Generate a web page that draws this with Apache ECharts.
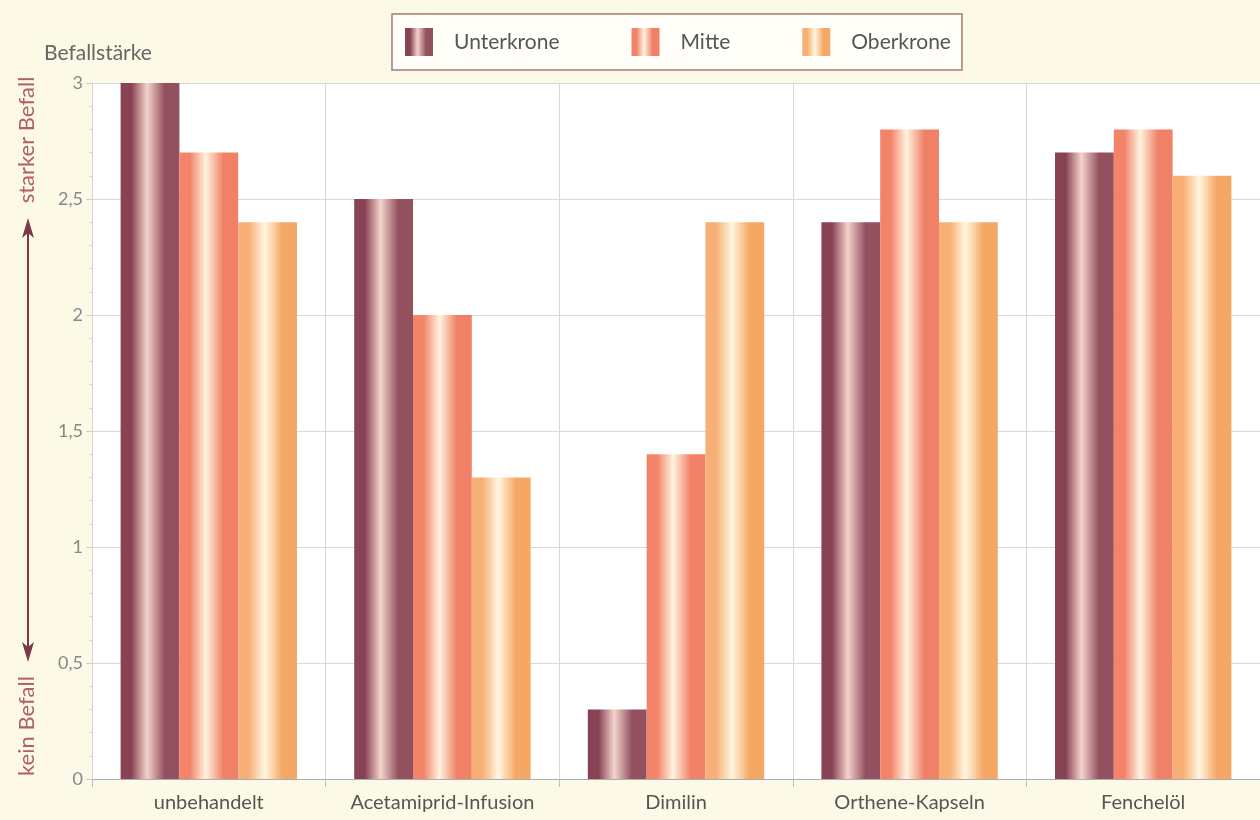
<!DOCTYPE html>
<html lang="de">
<head>
    <meta charset="UTF-8"/>
    <title>Befallstärke</title>
    <script src="https://cdn.jsdelivr.net/npm/echarts@6/dist/echarts.min.js"></script>
    <style>
        html, body {margin: 0; padding: 0; background: #fcfae6;}
        #chart {width: 1260px; height: 820px;}
    </style>
</head>
<body>
<div id="chart"></div>
<script type="text/javascript">
    var categories = ["unbehandelt", "Acetamiprid-Infusion", "Dimilin", "Orthene-Kapseln", "Fenchelöl"];
    var unterkrone = [3.0, 2.5, 0.3, 2.4, 2.7];
    var mitte = [2.7, 2.0, 1.4, 2.8, 2.8];
    var oberkrone = [2.4, 1.3, 2.4, 2.4, 2.6];
    var yTicks = [0, 0.5, 1, 1.5, 2, 2.5, 3];

    var font = "Lato, 'Noto Sans', sans-serif";

    function stripe(edgeL, mid, edgeR) {
        return {
            type: "linear", x: 0, y: 0, x2: 1, y2: 0,
            colorStops: [
                {offset: 0, color: edgeL},
                {offset: 0.18, color: edgeL},
                {offset: 0.45, color: mid},
                {offset: 0.75, color: edgeR},
                {offset: 1, color: edgeR}
            ]
        };
    }

    var chart = echarts.init(document.getElementById("chart"));
    chart.setOption({
        backgroundColor: "#fcfae6",
        textStyle: {fontFamily: font},
        legend: {
            left: 392, top: 14,
            padding: [14, 11, 14, 13],
            icon: "rect",
            itemWidth: 28, itemHeight: 28, itemGap: 72,
            backgroundColor: "#fffef8",
            borderColor: "#a57a78", borderWidth: 1.5,
            textStyle: {color: "#555", fontSize: 21, padding: [0, 0, 0, 16], fontFamily: font},
            data: ["Unterkrone", "Mitte", "Oberkrone"]
        },
        grid: {
            left: 92, top: 83, width: 1175, bottom: 41,
            show: true, backgroundColor: "#ffffff", borderWidth: 0
        },
        xAxis: {
            type: "category",
            data: categories,
            axisLine: {lineStyle: {color: "#a9adb8"}},
            axisTick: {show: true, interval: 0, length: 8, lineStyle: {color: "#b8bcc4"}},
            axisLabel: {color: "#555", fontSize: 20, margin: 14, interval: 0, hideOverlap: false},
            splitLine: {show: true, interval: 0, lineStyle: {color: "#d8d8d8"}}
        },
        yAxis: {
            type: "value",
            min: yTicks[0], max: yTicks[yTicks.length - 1], interval: 0.5,
            axisLine: {show: true, lineStyle: {color: "#d4d4d4"}},
            axisTick: {show: true, length: 6, lineStyle: {color: "#cccccc"}},
            minorTick: {show: true, splitNumber: 5, length: 3, lineStyle: {color: "#d6d6d6"}},
            axisLabel: {
                color: "#888", fontSize: 18, margin: 9,
                formatter: function (v) { return String(v).replace(".", ","); }
            },
            splitLine: {show: true, lineStyle: {color: "#d8d8d8"}}
        },
        series: [
            {
                name: "Unterkrone", type: "bar", barGap: "0%", barCategoryGap: "24.5%",
                itemStyle: {color: stripe("#874253", "#f4d3cb", "#93505f")},
                data: unterkrone
            },
            {
                name: "Mitte", type: "bar",
                itemStyle: {color: stripe("#f3846a", "#fff3df", "#f08066")},
                data: mitte
            },
            {
                name: "Oberkrone", type: "bar",
                itemStyle: {color: stripe("#f7af75", "#fff6df", "#f5a866")},
                data: oberkrone
            }
        ],
        graphic: [
            {
                type: "text", left: 44, top: 43,
                style: {text: "Befallstärke", fill: "#666", fontSize: 21, fontFamily: font}
            },
            {
                type: "text", x: 27, y: 140, rotation: Math.PI / 2,
                style: {text: "starker Befall", fill: "#b0606a", fontSize: 22, fontFamily: font,
                    align: "center", verticalAlign: "middle"}
            },
            {
                type: "text", x: 27, y: 726, rotation: Math.PI / 2,
                style: {text: "kein Befall", fill: "#b0606a", fontSize: 22, fontFamily: font,
                    align: "center", verticalAlign: "middle"}
            },
            {
                type: "line", shape: {x1: 28, y1: 225, x2: 28, y2: 655},
                style: {stroke: "#7b3a4c", lineWidth: 2}
            },
            {
                type: "polygon", shape: {points: [[28, 218], [22, 238], [28, 233], [34, 238]]},
                style: {fill: "#7b3a4c"}
            },
            {
                type: "polygon", shape: {points: [[28, 662], [22, 642], [28, 647], [34, 642]]},
                style: {fill: "#7b3a4c"}
            }
        ]
    });
</script>
</body>
</html>
